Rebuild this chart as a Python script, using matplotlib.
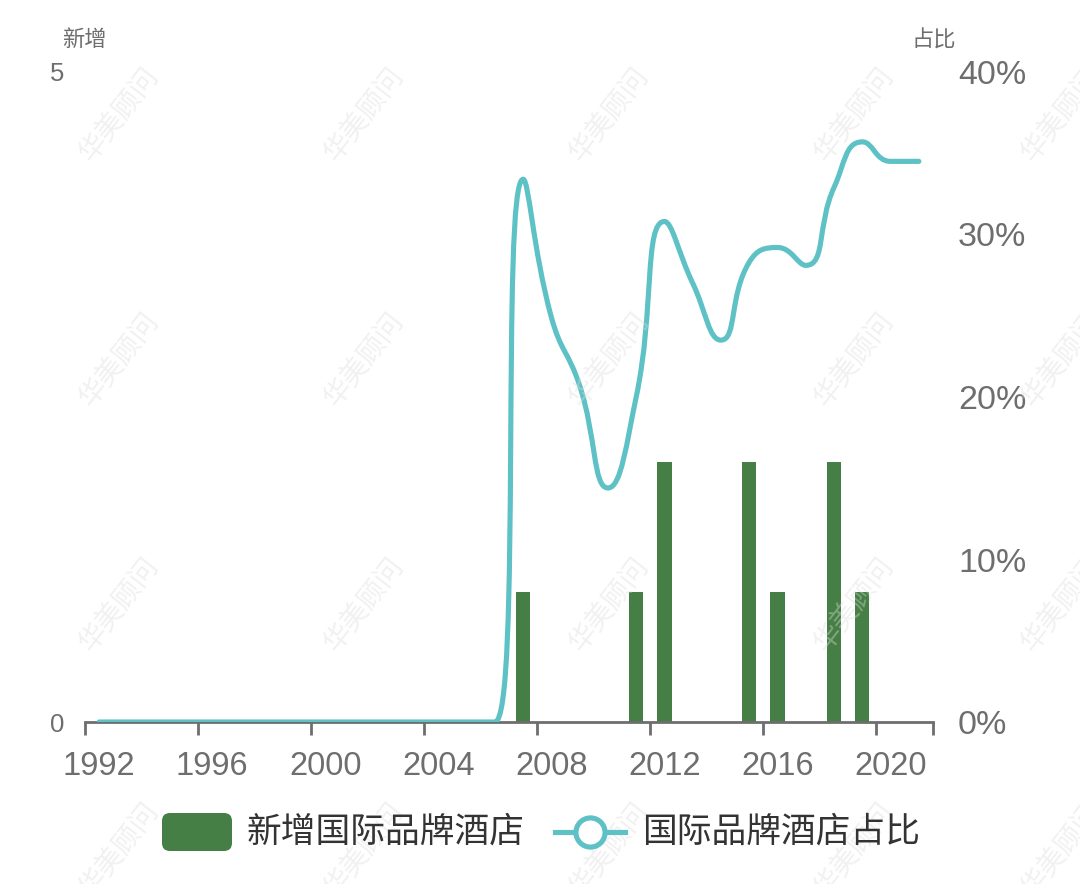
import matplotlib
matplotlib.use("Agg")
import matplotlib.pyplot as plt
from matplotlib.path import Path
from matplotlib.patches import PathPatch, FancyBboxPatch
from matplotlib.lines import Line2D
import numpy as np

# data
years = list(range(1992, 2022))
new_hotels = [0] * 15 + [1, 0, 0, 0, 1, 2, 0, 0, 2, 1, 0, 2, 1, 0, 0]
share_pct = [0] * 15 + [33.4, 24.9, 20.7, 14.4, 20.0, 30.8, 27.0, 23.5,
                        28.3, 29.2, 28.1, 32.9, 35.7, 34.5, 34.5]
xtick_years = [1992, 1996, 2000, 2004, 2008, 2012, 2016, 2020]
right_ticks = [0, 10, 20, 30, 40]

BAR = "#467f45"
LINE = "#5dc1c5"
GREY = "#6e6e6e"
NUM_FONT = ["Liberation Sans", "Noto Sans CJK SC"]
CJK_FONT = ["Noto Sans CJK SC", "DejaVu Sans"]

W, H = 1080, 884
fig = plt.figure(figsize=(W / 100, H / 100), dpi=100)
ax = fig.add_axes([85 / W, 1 - 722 / H, 848 / W, 650 / H])
ax2 = ax.twinx()

idx = np.arange(len(years))
ax.bar(idx, new_hotels, width=0.5, color=BAR, zorder=2)
ax.set_xlim(-0.5, len(years) - 0.5)
ax.set_ylim(0, 5)
ax2.set_ylim(0, 40)

# echarts-style smoothed line, control points computed in pixel space
def smooth_path(xs, ys, smooth=0.5):
    pts = ax2.transData.transform(np.column_stack([xs, ys]))
    verts = [tuple(pts[0])]
    codes = [Path.MOVETO]
    cp0 = pts[0]
    n = len(pts)
    for i in range(1, n):
        x, y = pts[i]
        px, py = pts[i - 1]
        nxt_cp = None
        if i == n - 1:
            cp1 = (x, y)
        else:
            nx, ny = pts[i + 1]
            vx, vy = nx - px, ny - py
            lp = np.hypot(x - px, y - py)
            ln = np.hypot(nx - x, ny - y)
            r = ln / (ln + lp)
            ncx = x + vx * smooth * r
            ncy = y + vy * smooth * r
            ncx = max(min(ncx, max(nx, x)), min(nx, x))
            ncy = max(min(ncy, max(ny, y)), min(ny, y))
            vx, vy = ncx - x, ncy - y
            c1x = x - vx * lp / ln
            c1y = y - vy * lp / ln
            c1x = max(min(c1x, max(px, x)), min(px, x))
            c1y = max(min(c1y, max(py, y)), min(py, y))
            vx, vy = x - c1x, y - c1y
            ncx = x + vx * ln / lp
            ncy = y + vy * ln / lp
            cp1 = (c1x, c1y)
            nxt_cp = (ncx, ncy)
        verts += [tuple(cp0), tuple(cp1), (x, y)]
        codes += [Path.CURVE4] * 3
        cp0 = nxt_cp if nxt_cp is not None else (x, y)
    data_verts = ax2.transData.inverted().transform(np.array(verts))
    return Path(data_verts, codes)

ax2.add_patch(PathPatch(smooth_path(idx, share_pct), facecolor="none",
                        edgecolor=LINE, linewidth=3.7, capstyle="round",
                        joinstyle="round", zorder=3))

# axes styling
for a in (ax, ax2):
    for s in a.spines.values():
        s.set_visible(False)
ax.spines["bottom"].set_visible(True)
ax.spines["bottom"].set_color(GREY)
ax.spines["bottom"].set_linewidth(2)

ax.set_xticks([years.index(y) for y in xtick_years])
ax.set_xticklabels([str(y) for y in xtick_years])
ax.set_xticks(np.arange(-0.5, len(years), 4).tolist() + [len(years) - 0.5], minor=True)
ax.tick_params(axis="x", which="major", length=0, pad=21, labelsize=23.5, labelcolor=GREY)
ax.tick_params(axis="x", which="minor", length=9, width=2, color=GREY)
for t in ax.get_xticklabels():
    t.set_fontfamily(NUM_FONT)

ax.set_yticks([0, 5])
ax.set_yticklabels(["0", "5"])
ax.tick_params(axis="y", length=0, pad=15, labelsize=18.5, labelcolor=GREY)
for t in ax.get_yticklabels():
    t.set_fontfamily(NUM_FONT)

ax2.set_yticks(right_ticks)
ax2.set_yticklabels([f"{v}%" for v in right_ticks])
ax2.tick_params(axis="y", length=0, pad=18, labelsize=24.5, labelcolor=GREY)
for t in ax2.get_yticklabels():
    t.set_fontfamily(NUM_FONT)

# overlay in pixel coordinates for titles, legend, watermark
ov = fig.add_axes([0, 0, 1, 1], zorder=5)
ov.set_xlim(0, W)
ov.set_ylim(H, 0)
ov.axis("off")
ov.patch.set_alpha(0)

ov.text(84, 40, "新增", fontsize=16, color=GREY, family=CJK_FONT, ha="center", va="center")
ov.text(934, 40, "占比", fontsize=16, color=GREY, family=CJK_FONT, ha="center", va="center")

ov.add_patch(FancyBboxPatch((162, 813), 70, 38, boxstyle="round,pad=0,rounding_size=8",
                            facecolor=BAR, edgecolor="none"))
ov.text(247, 832, "新增国际品牌酒店", fontsize=25, color="#333333", family=CJK_FONT,
        ha="left", va="center")
ov.add_line(Line2D([555, 625], [832, 832], color=LINE, linewidth=3.7))
ov.add_line(Line2D([590], [832], marker="o", markersize=21, markerfacecolor="white",
                   markeredgecolor=LINE, markeredgewidth=3.7, linestyle="none"))
ov.text(642, 832, "国际品牌酒店占比", fontsize=25, color="#333333", family=CJK_FONT,
        ha="left", va="center")

for wy in (115, 360, 605, 850):
    for wx in (120, 365, 610, 855, 1062):
        ov.text(wx, wy, "华美顾问", fontsize=20, color="#dcdcdc", alpha=0.4,
                family=CJK_FONT, rotation=52, ha="center", va="center", zorder=0)

fig.savefig("out.png", dpi=100)
